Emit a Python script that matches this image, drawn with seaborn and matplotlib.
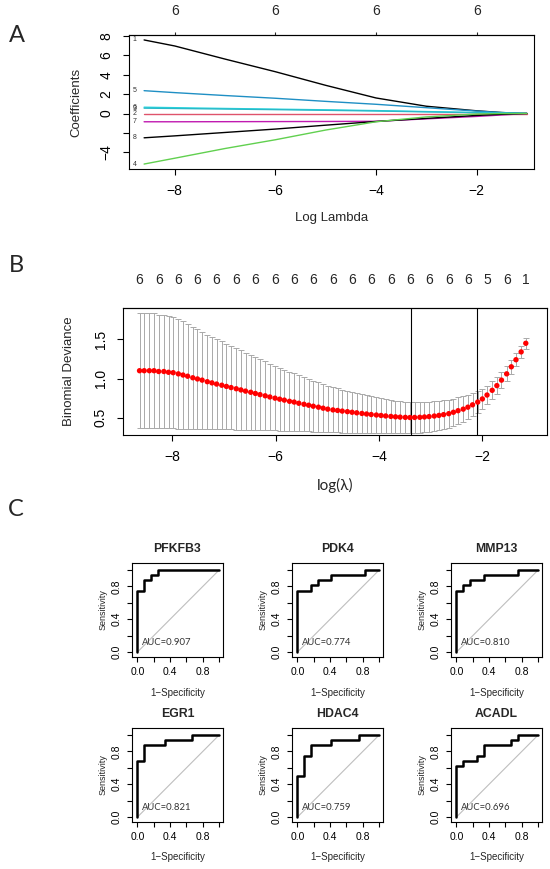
import numpy as np
import pandas as pd
import matplotlib
matplotlib.use("Agg")
import matplotlib.pyplot as plt
import seaborn as sns

# ---- panel A: lasso coefficient paths ----
path_loglam = [-8.61, -8.0, -7.0, -6.0, -5.0, -4.0, -3.0, -2.0, -1.5, -1.0]
coef_paths = {
    "1": [7.57, 6.95, 5.6, 4.3, 2.9, 1.6, 0.75, 0.28, 0.1, 0.0],
    "5": [2.35, 2.15, 1.85, 1.57, 1.25, 0.95, 0.6, 0.25, 0.1, 0.0],
    "6": [0.65, 0.6, 0.52, 0.45, 0.38, 0.3, 0.2, 0.1, 0.04, 0.0],
    "3": [0.55, 0.52, 0.46, 0.4, 0.33, 0.26, 0.17, 0.08, 0.03, 0.0],
    "2": [0.0, 0.0, 0.0, 0.0, 0.0, 0.0, 0.0, 0.0, 0.0, 0.0],
    "7": [-0.85, -0.85, -0.84, -0.83, -0.82, -0.8, -0.55, -0.3, -0.15, 0.0],
    "8": [-2.5, -2.3, -1.95, -1.6, -1.2, -0.82, -0.5, -0.2, -0.08, 0.0],
    "4": [-5.2, -4.6, -3.6, -2.7, -1.7, -0.85, -0.35, -0.05, 0.0, 0.0],
}
coef_colors = {"1": "black", "5": "#1F8FC4", "6": "#28D8E0", "3": "#2AB8C8",
               "2": "#DF536B", "7": "#C01AB0", "8": "black", "4": "#61D04F"}
top_a_ticks = [-8, -6, -4, -2]
top_a_labels = ["6", "6", "6", "6"]

# ---- panel B: cross-validation curve ----
cv_loglam = [-8.63, -8.54, -8.44, -8.35, -8.26, -8.16, -8.07, -7.98, -7.88, -7.79,
             -7.70, -7.60, -7.51, -7.42, -7.32, -7.23, -7.14, -7.04, -6.95, -6.86,
             -6.76, -6.67, -6.58, -6.48, -6.39, -6.30, -6.20, -6.11, -6.01, -5.92,
             -5.83, -5.73, -5.64, -5.55, -5.45, -5.36, -5.27, -5.17, -5.08, -4.99,
             -4.89, -4.80, -4.71, -4.61, -4.52, -4.43, -4.33, -4.24, -4.15, -4.05,
             -3.96, -3.87, -3.77, -3.68, -3.59, -3.49, -3.40, -3.31, -3.21, -3.12,
             -3.03, -2.93, -2.84, -2.75, -2.65, -2.56, -2.47, -2.37, -2.28, -2.19,
             -2.09, -2.00, -1.91, -1.81, -1.72, -1.63, -1.53, -1.44, -1.35, -1.25,
             -1.16]
cv_mean = [1.10, 1.10, 1.10, 1.10, 1.09, 1.09, 1.08, 1.075, 1.06, 1.045,
           1.03, 1.01, 0.995, 0.98, 0.96, 0.945, 0.93, 0.915, 0.90, 0.885,
           0.87, 0.855, 0.84, 0.825, 0.81, 0.795, 0.78, 0.765, 0.75, 0.737,
           0.725, 0.71, 0.70, 0.685, 0.672, 0.66, 0.647, 0.635, 0.622, 0.61,
           0.60, 0.593, 0.585, 0.578, 0.57, 0.563, 0.555, 0.548, 0.541, 0.535,
           0.529, 0.523, 0.517, 0.512, 0.508, 0.505, 0.503, 0.504, 0.506, 0.51,
           0.515, 0.522, 0.53, 0.54, 0.552, 0.57, 0.59, 0.61, 0.635, 0.665,
           0.70, 0.74, 0.79, 0.85, 0.91, 0.98, 1.06, 1.15, 1.24, 1.34,
           1.45]
cv_se = [0.73, 0.73, 0.73, 0.73, 0.72, 0.72, 0.715, 0.71, 0.70, 0.685,
         0.67, 0.65, 0.635, 0.62, 0.60, 0.585, 0.575, 0.56, 0.545, 0.53,
         0.52, 0.505, 0.49, 0.48, 0.465, 0.45, 0.44, 0.425, 0.41, 0.40,
         0.39, 0.375, 0.365, 0.355, 0.345, 0.335, 0.325, 0.315, 0.305, 0.295,
         0.288, 0.281, 0.274, 0.267, 0.26, 0.253, 0.246, 0.24, 0.234, 0.228,
         0.222, 0.217, 0.212, 0.208, 0.205, 0.202, 0.20, 0.198, 0.196, 0.194,
         0.192, 0.19, 0.187, 0.184, 0.18, 0.175, 0.17, 0.163, 0.155, 0.145,
         0.135, 0.127, 0.12, 0.113, 0.106, 0.10, 0.094, 0.088, 0.082, 0.076,
         0.07]
lambda_min = -3.38
lambda_1se = -2.10
top_b_labels = ["6", "6", "6", "6", "6", "6", "6", "6", "6", "6", "6",
                "6", "6", "6", "6", "6", "6", "6", "5", "6", "1"]

# ---- panel C: ROC curves ----
roc_genes = ["PFKFB3", "PDK4", "MMP13", "EGR1", "HDAC4", "ACADL"]
roc_auc = ["0.907", "0.774", "0.810", "0.821", "0.759", "0.696"]
roc_fpr = [
    [0, 0, 0.083, 0.083, 0.167, 0.167, 0.25, 0.25, 1.0],
    [0, 0, 0.167, 0.167, 0.25, 0.25, 0.417, 0.417, 0.833, 0.833, 1.0],
    [0, 0, 0.083, 0.083, 0.167, 0.167, 0.333, 0.333, 0.75, 0.75, 1.0],
    [0, 0, 0.083, 0.083, 0.333, 0.333, 0.667, 0.667, 1.0],
    [0, 0, 0.083, 0.083, 0.167, 0.167, 0.417, 0.417, 0.75, 0.75, 1.0],
    [0, 0, 0.083, 0.083, 0.25, 0.25, 0.333, 0.333, 0.667, 0.667, 0.75, 0.75, 1.0],
]
roc_tpr = [
    [0, 0.75, 0.75, 0.875, 0.875, 0.9375, 0.9375, 1.0, 1.0],
    [0, 0.75, 0.75, 0.8125, 0.8125, 0.875, 0.875, 0.9375, 0.9375, 1.0, 1.0],
    [0, 0.75, 0.75, 0.8125, 0.8125, 0.875, 0.875, 0.9375, 0.9375, 1.0, 1.0],
    [0, 0.6875, 0.6875, 0.875, 0.875, 0.9375, 0.9375, 1.0, 1.0],
    [0, 0.5, 0.5, 0.75, 0.75, 0.875, 0.875, 0.9375, 0.9375, 1.0, 1.0],
    [0, 0.625, 0.625, 0.6875, 0.6875, 0.75, 0.75, 0.875, 0.875, 0.9375, 0.9375, 1.0, 1.0],
]

sns.set_theme(style="ticks")
plt.rcParams["font.family"] = ["Liberation Sans", "DejaVu Sans"]
plt.rcParams["axes.linewidth"] = 0.8
plt.rcParams["axes.edgecolor"] = "black"

W, H = 550, 869
fig = plt.figure(figsize=(W / 100, H / 100), dpi=100)


def px_axes(l, t, r, b):
    return fig.add_axes([l / W, 1 - b / H, (r - l) / W, (b - t) / H])


def style_axes(ax, size, length=4, pad=5):
    ax.tick_params(direction="out", length=length, width=0.8, colors="black",
                   labelsize=size, pad=pad)
    for s in ax.spines.values():
        s.set_visible(True)
        s.set_linewidth(0.8)
        s.set_color("black")


calib = ["Lato", "DejaVu Sans"]
fig.text(17 / W, 1 - 35 / H, "A", fontsize=17, family=calib, ha="center", va="center")
fig.text(16 / W, 1 - 265 / H, "B", fontsize=17, family=calib, ha="center", va="center")
fig.text(16 / W, 1 - 509 / H, "C", fontsize=17, family=calib, ha="center", va="center")

# ---------------- panel A ----------------
axA = px_axes(129, 35, 534, 169)
rows = []
for lab, vals in coef_paths.items():
    for x, y in zip(path_loglam, vals):
        rows.append({"loglam": x, "coef": y, "var": lab})
df_a = pd.DataFrame(rows)
sns.lineplot(data=df_a, x="loglam", y="coef", hue="var", palette=coef_colors,
             estimator=None, sort=False, legend=False, linewidth=1.0, ax=axA)
for lab, vals in coef_paths.items():
    axA.text(-8.80, vals[0], lab, fontsize=5, ha="center", va="center", color="#333333")
axA.set_xlim(-8.91, -0.86)
axA.set_ylim(-5.71, 8.08)
axA.set_xticks([-8, -6, -4, -2])
axA.set_yticks([-4, -2, 0, 2, 4, 6, 8])
axA.set_yticklabels(["\u22124", "", "0", "2", "4", "6", "8"], rotation=90, va="center")
style_axes(axA, 10, length=4, pad=7)
axA.set_xlabel("Log Lambda", fontsize=9.5)
axA.xaxis.set_label_coords(0.5, -(218.5 - 169) / 134)
axA.xaxis.label.set_va("center")
axA.set_ylabel("Coefficients", fontsize=9.5)
axA.yaxis.set_label_coords(-(129 - 76) / 405, 0.5)
axA.yaxis.label.set_va("center")
topA = axA.secondary_xaxis("top")
topA.set_xticks(top_a_ticks)
topA.set_xticklabels(top_a_labels)
topA.tick_params(length=2, width=0.8, labelsize=10, pad=10)

# ---------------- panel B ----------------
axB = px_axes(123, 308, 547, 435)
axB.errorbar(cv_loglam, cv_mean, yerr=cv_se, fmt="none", ecolor="darkgrey",
             elinewidth=0.7, capsize=2.2, capthick=0.7, zorder=1)
df_b = pd.DataFrame({"loglam": cv_loglam, "dev": cv_mean})
sns.scatterplot(data=df_b, x="loglam", y="dev", color="red", s=15,
                edgecolor="none", zorder=3, ax=axB)
axB.axvline(lambda_min, color="black", linewidth=0.8)
axB.axvline(lambda_1se, color="black", linewidth=0.8)
axB.set_xlim(-8.95, -0.75)
axB.set_ylim(0.28, 1.90)
axB.set_xticks([-8, -6, -4, -2])
axB.set_yticks([0.5, 1.0, 1.5])
axB.set_yticklabels(["0.5", "1.0", "1.5"], rotation=90, va="center")
style_axes(axB, 10, length=4, pad=7)
axB.set_xlabel("log(\u03bb)", fontsize=11, family=calib)
axB.xaxis.set_label_coords(0.5, -(485 - 435) / 127)
axB.xaxis.label.set_va("center")
axB.set_ylabel("Binomial Deviance", fontsize=9.5)
axB.yaxis.set_label_coords(-(123 - 69) / 424, 0.5)
axB.yaxis.label.set_va("center")
topB = axB.secondary_xaxis("top")
topB.set_xticks(cv_loglam[::4])
topB.set_xticklabels(top_b_labels)
topB.tick_params(length=0, labelsize=10, pad=15)

# ---------------- panel C ----------------
col_left = [131.7, 291.7, 450.7]
row_top = [563, 728]
bw, bh = 91.5, 94
for i, gene in enumerate(roc_genes):
    l = col_left[i % 3]
    t = row_top[i // 3]
    ax = px_axes(l, t, l + bw, t + bh)
    ax.plot([0, 1], [0, 1], color="#BEBEBE", linewidth=0.8, zorder=1)
    df_r = pd.DataFrame({"fpr": roc_fpr[i], "tpr": roc_tpr[i]})
    sns.lineplot(data=df_r, x="fpr", y="tpr", estimator=None, sort=False,
                 color="black", linewidth=1.8, ax=ax, zorder=2)
    ax.text(0.05, 0.12, "AUC=" + roc_auc[i], fontsize=6.8, family=calib,
            color="#333333", ha="left", va="center")
    ax.set_xlim(-0.07, 1.05)
    ax.set_ylim(-0.06, 1.086)
    ax.set_xticks([0, 0.2, 0.4, 0.6, 0.8, 1.0])
    ax.set_xticklabels(["0.0", "", "0.4", "", "0.8", ""])
    ax.set_yticks([0, 0.2, 0.4, 0.6, 0.8, 1.0])
    ax.set_yticklabels(["0.0", "", "0.4", "", "0.8", ""], rotation=90, va="center")
    style_axes(ax, 7.5, length=3.5, pad=4)
    ax.set_title(gene, fontsize=8.8, fontweight="bold", pad=8)
    ax.set_xlabel("1\u2212Specificity", fontsize=7)
    ax.xaxis.set_label_coords(0.5, -35.5 / bh)
    ax.xaxis.label.set_va("center")
    ax.set_ylabel("Sensitivity", fontsize=6.5)
    ax.yaxis.set_label_coords(-29 / bw, 0.5)
    ax.yaxis.label.set_va("center")

fig.savefig("out.png", dpi=100, facecolor="white")
